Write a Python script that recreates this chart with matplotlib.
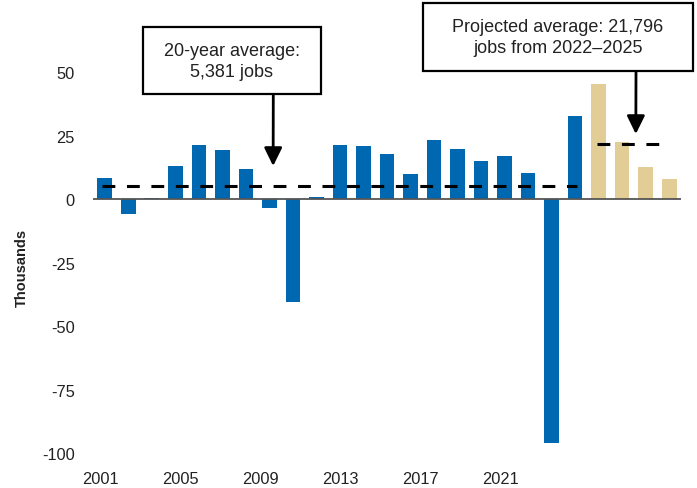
import matplotlib
matplotlib.use('Agg')
import matplotlib.pyplot as plt
from matplotlib.patches import Rectangle
import numpy as np

plt.rcParams['font.family'] = ['Liberation Sans', 'DejaVu Sans']
plt.rcParams['axes.unicode_minus'] = False

# data (thousands of jobs)
years = list(range(2001, 2026))
jobs = [8.2, -6.0, 0.5, 13.0, 21.4, 19.3, 11.8, -3.6, -40.4, 0.8,
        21.2, 20.9, 17.9, 10.0, 23.3, 19.7, 15.0, 17.0, 10.3, -96.0,
        32.8, 45.4, 22.5, 12.6, 7.9]
projected = [False] * 21 + [True] * 4
hist_avg = 5.381
proj_avg = 21.796
yticks = [50, 25, 0, -25, -50, -75, -100]
xtick_years = [2001, 2005, 2009, 2013, 2017, 2021]

blue = '#0067B1'
tan = '#E3CD96'
text_col = '#222222'

fig = plt.figure(figsize=(6.97, 4.89), dpi=100)
ax = fig.add_axes([0.1334, 0.0716, 0.8436, 0.8302])

colors = [tan if p else blue for p in projected]
ax.bar(years, jobs, width=0.62, color=colors, zorder=2)
ax.axhline(0, color='#555555', lw=1.3, zorder=3)

ax.hlines(hist_avg, 2000.9, 2021.1, colors='black', lw=2.2,
          linestyles=(0, (4.2, 3.8)), zorder=4)
ax.hlines(proj_avg, 2021.95, 2024.95, colors='black', lw=2.2,
          linestyles=(0, (4.2, 3.8)), zorder=4)

ax.set_xlim(2000.5, 2025.5)
ax.set_ylim(-100, 60)
ax.set_yticks(yticks)
ax.set_yticklabels([str(v) for v in yticks])
ax.tick_params(axis='y', length=0, pad=13, labelsize=11.8, labelcolor=text_col)
ax.set_xticks([])
for s in ax.spines.values():
    s.set_visible(False)

# year labels sit on their own (misaligned) scale like the original
ax2 = ax.twiny()
ax2.set_xlim(2000.625, 2030.0)
ax2.xaxis.set_ticks_position('bottom')
ax2.set_xticks(xtick_years)
ax2.set_xticklabels([str(y) for y in xtick_years])
ax2.tick_params(axis='x', length=0, pad=13, labelsize=11.8, labelcolor=text_col)
for s in ax2.spines.values():
    s.set_visible(False)

fig.text(0.031, 0.452, 'Thousands', rotation=90, fontsize=10.5, fontweight='bold',
         ha='center', va='center', color=text_col)

# annotation boxes
fig.patches.append(Rectangle((0.2047, 0.8057), 0.2554, 0.1364, transform=fig.transFigure,
                             fill=True, facecolor='white', edgecolor='black', lw=1.6))
fig.text(0.3324, 0.8738, '20-year average:\n5,381 jobs', ha='center', va='center',
         fontsize=13, color=text_col, linespacing=1.3)
fig.patches.append(Rectangle((0.6069, 0.8534), 0.3869, 0.1384, transform=fig.transFigure,
                             fill=True, facecolor='white', edgecolor='black', lw=1.6))
fig.text(0.8004, 0.9226, 'Projected average: 21,796\njobs from 2022\u20132025', ha='center',
         va='center', fontsize=13, color=text_col, linespacing=1.3)

arrow = dict(arrowstyle='-|>,head_length=0.55,head_width=0.27', lw=2, color='black',
             mutation_scale=20, shrinkA=0, shrinkB=0)
ax.annotate('', xy=(2008.16, 13.1), xytext=(0.3921, 0.8057), xycoords='data',
            textcoords='figure fraction', arrowprops=arrow, annotation_clip=False)
ax.annotate('', xy=(2023.58, 25.7), xytext=(0.9125, 0.8534), xycoords='data',
            textcoords='figure fraction', arrowprops=arrow, annotation_clip=False)

fig.savefig('out.png', dpi=100, facecolor='white')
